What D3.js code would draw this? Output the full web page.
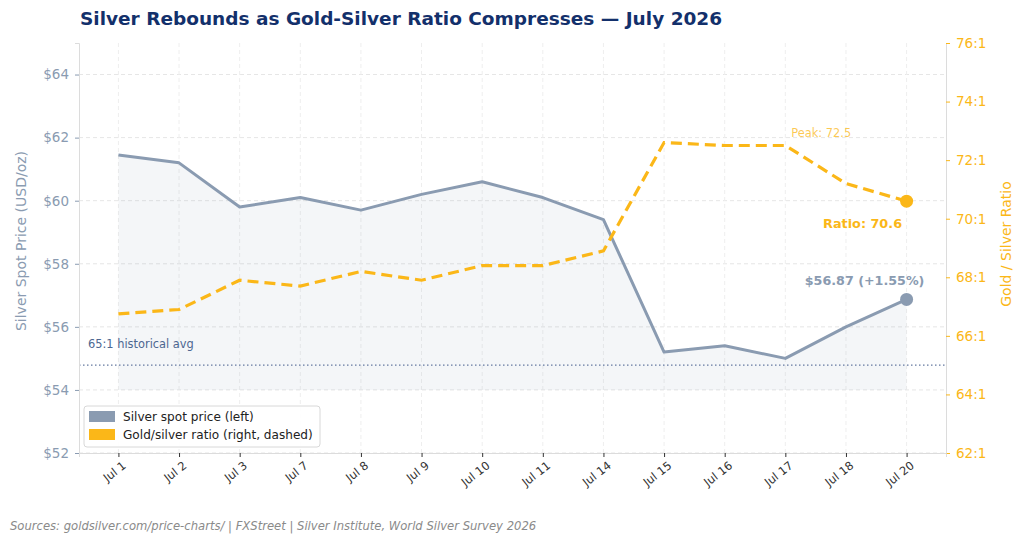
<!DOCTYPE html>
<html>
<head>
<meta charset="utf-8">
<script src="https://cdn.jsdelivr.net/npm/d3@7"></script>
<style>
  body { margin: 0; background: #fff; }
  svg { display: block; font-family: "DejaVu Sans", sans-serif; }
</style>
</head>
<body>
<div id="chart"></div>
<script>
// data
const dates = ["Jul 1", "Jul 2", "Jul 3", "Jul 7", "Jul 8", "Jul 9", "Jul 10", "Jul 11", "Jul 14", "Jul 15", "Jul 16", "Jul 17", "Jul 18", "Jul 20"];
const silverPrice = [61.45, 61.2, 59.8, 60.1, 59.7, 60.2, 60.6, 60.1, 59.4, 55.2, 55.4, 55.0, 56.0, 56.87];
const goldSilverRatio = [66.75, 66.9, 67.9, 67.7, 68.2, 67.9, 68.4, 68.4, 68.9, 72.6, 72.5, 72.5, 71.2, 70.6];
const priceTicks = [52, 54, 56, 58, 60, 62, 64];
const ratioTicks = [62, 64, 66, 68, 70, 72, 74, 76];
const historicalAvg = 65;

const silverColor = "#8a9bb1";
const goldColor = "#fbb718";

const width = 1024, height = 543;
const margin = {top: 43, right: 78, bottom: 90, left: 79};
const innerW = width - margin.left - margin.right;
const innerH = height - margin.top - margin.bottom;

const svg = d3.select("#chart").append("svg")
    .attr("width", width)
    .attr("height", height);

// title
svg.append("text")
    .attr("x", 80).attr("y", 25)
    .attr("font-size", 18.5).attr("font-weight", "bold")
    .attr("fill", "#13306b")
    .text("Silver Rebounds as Gold-Silver Ratio Compresses \u2014 July 2026");

const g = svg.append("g").attr("transform", `translate(${margin.left},${margin.top})`);

const x = d3.scalePoint().domain(dates).range([0, innerW]).padding(0.65);
const yL = d3.scaleLinear().domain([52, 65]).range([innerH, 0]);
const yR = d3.scaleLinear().domain([62, 76]).range([innerH, 0]);

// grid
g.append("g").selectAll("line").data(priceTicks).join("line")
    .attr("x1", 0).attr("x2", innerW)
    .attr("y1", d => yL(d)).attr("y2", d => yL(d))
    .attr("stroke", "#e6e6e6").attr("stroke-dasharray", "4,3");
g.append("g").selectAll("line").data(dates).join("line")
    .attr("x1", d => x(d)).attr("x2", d => x(d))
    .attr("y1", 0).attr("y2", innerH)
    .attr("stroke", "#eeeeee").attr("stroke-dasharray", "4,3");

// silver area + line
const area = d3.area()
    .x((d, i) => x(dates[i]))
    .y0(yL(54))
    .y1(d => yL(d));
g.append("path").datum(silverPrice)
    .attr("d", area)
    .attr("fill", silverColor).attr("fill-opacity", 0.09);

// historical average ratio line
g.append("line")
    .attr("x1", 0).attr("x2", innerW)
    .attr("y1", yR(historicalAvg)).attr("y2", yR(historicalAvg))
    .attr("stroke", "#6479a0").attr("stroke-width", 1.3)
    .attr("stroke-dasharray", "1.5,2.5");
g.append("text")
    .attr("x", 9).attr("y", yR(historicalAvg) - 17)
    .attr("font-size", 11.4).attr("fill", "#4d6791")
    .text("65:1 historical avg");

const line = d3.line().x((d, i) => x(dates[i]));

g.append("path").datum(silverPrice)
    .attr("d", line.y(d => yL(d)))
    .attr("fill", "none").attr("stroke", silverColor)
    .attr("stroke-width", 3).attr("stroke-linejoin", "round");

g.append("path").datum(goldSilverRatio)
    .attr("d", d3.line().x((d, i) => x(dates[i])).y(d => yR(d)))
    .attr("fill", "none").attr("stroke", goldColor)
    .attr("stroke-width", 3.2).attr("stroke-dasharray", "11,6");

// end markers
const last = dates.length - 1;
g.append("circle")
    .attr("cx", x(dates[last])).attr("cy", yL(silverPrice[last]))
    .attr("r", 6.5).attr("fill", silverColor);
g.append("circle")
    .attr("cx", x(dates[last])).attr("cy", yR(goldSilverRatio[last]))
    .attr("r", 6.5).attr("fill", goldColor);

// annotations
g.append("text")
    .attr("x", x(dates[last]) - 42).attr("y", yL(silverPrice[last]) - 14)
    .attr("text-anchor", "middle")
    .attr("font-size", 12.7).attr("font-weight", "bold").attr("fill", silverColor)
    .text("$56.87 (+1.55%)");
g.append("text")
    .attr("x", x(dates[last]) - 44).attr("y", yR(goldSilverRatio[last]) + 27)
    .attr("text-anchor", "middle")
    .attr("font-size", 12.8).attr("font-weight", "bold").attr("fill", goldColor)
    .text("Ratio: 70.6");
g.append("text")
    .attr("x", x("Jul 17") + 6).attr("y", yR(72.5) - 9)
    .attr("font-size", 11.4).attr("fill", goldColor).attr("fill-opacity", 0.75)
    .text("Peak: 72.5");

// axes
const axL = g.append("g")
    .call(d3.axisLeft(yL).tickValues(priceTicks).tickFormat(d => "$" + d).tickSize(4).tickPadding(6));
axL.select(".domain").attr("stroke", "#dcdcdc");
axL.selectAll(".tick line").attr("stroke", silverColor);
axL.selectAll("text").attr("fill", silverColor).attr("font-size", 13.5).attr("font-family", "DejaVu Sans");

const axR = g.append("g").attr("transform", `translate(${innerW},0)`)
    .call(d3.axisRight(yR).tickValues(ratioTicks).tickFormat(d => d + ":1").tickSize(4).tickPadding(6));
axR.select(".domain").attr("stroke", "#dcdcdc");
axR.selectAll(".tick line").attr("stroke", goldColor);
axR.selectAll("text").attr("fill", goldColor).attr("font-size", 13.5).attr("font-family", "DejaVu Sans");

const axB = g.append("g").attr("transform", `translate(0,${innerH})`)
    .call(d3.axisBottom(x).tickSize(4).tickPadding(5));
axB.select(".domain").attr("stroke", "#dcdcdc");
axB.selectAll(".tick line").attr("stroke", "#333");
axB.selectAll("text")
    .attr("fill", "#333").attr("font-size", 11.5).attr("font-family", "DejaVu Sans")
    .attr("text-anchor", "end")
    .attr("dx", "-0.2em").attr("dy", "0.6em")
    .attr("transform", "rotate(-38)");

// axis titles
svg.append("text")
    .attr("transform", `translate(26,${margin.top + innerH / 2 - 7}) rotate(-90)`)
    .attr("text-anchor", "middle")
    .attr("font-size", 14).attr("fill", silverColor)
    .text("Silver Spot Price (USD/oz)");
svg.append("text")
    .attr("transform", `translate(1011,${margin.top + innerH / 2 - 4}) rotate(-90)`)
    .attr("text-anchor", "middle")
    .attr("font-size", 14).attr("fill", goldColor)
    .text("Gold / Silver Ratio");

// legend
const legendItems = [
    {label: "Silver spot price (left)", color: silverColor},
    {label: "Gold/silver ratio (right, dashed)", color: goldColor}
];
const leg = g.append("g").attr("transform", `translate(5,${innerH - 47})`);
leg.append("rect")
    .attr("width", 236).attr("height", 41).attr("rx", 3)
    .attr("fill", "#fff").attr("fill-opacity", 0.9)
    .attr("stroke", "#d8d8d8");
legendItems.forEach((d, i) => {
    leg.append("rect")
        .attr("x", 5).attr("y", 5 + i * 18)
        .attr("width", 26).attr("height", 11)
        .attr("fill", d.color);
    leg.append("text")
        .attr("x", 39).attr("y", 14.5 + i * 18)
        .attr("font-size", 12.1).attr("fill", "#222")
        .text(d.label);
});

// source
svg.append("text")
    .attr("x", 10).attr("y", 530)
    .attr("font-size", 11.6).attr("font-style", "italic").attr("fill", "#8a8a8a")
    .text("Sources: goldsilver.com/price-charts/ | FXStreet | Silver Institute, World Silver Survey 2026");
</script>
</body>
</html>
